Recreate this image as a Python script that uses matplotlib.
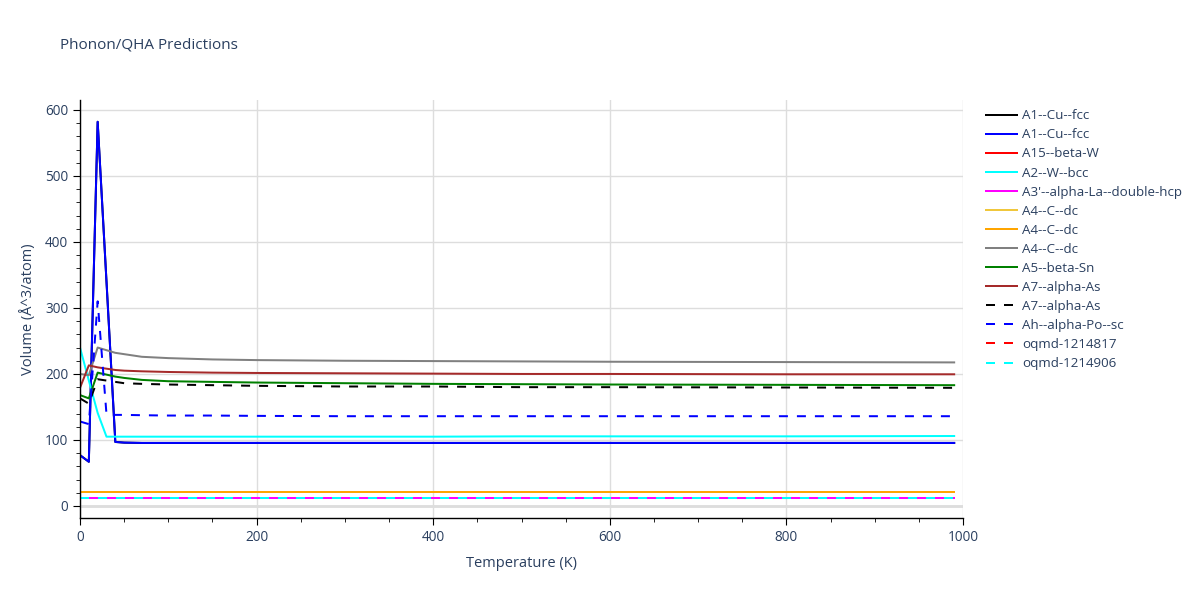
import matplotlib.pyplot as plt
from matplotlib.ticker import MultipleLocator

plt.rcParams['font.family'] = ['Open Sans', 'DejaVu Sans']

temps = [0, 10, 20, 30, 40, 50, 70, 100, 150, 200, 300, 400, 500, 600, 800, 990]

cu_fcc = [77, 67, 582, 340, 97, 96, 95.5, 95.5, 95.5, 95.5, 95.5, 95.5, 95.5, 95.5, 95.5, 95.5]
beta_w = [11.5] * 16
w_bcc = [240, 190, 141, 105, 105, 105, 105, 105, 105, 105, 105, 105, 105.5, 105.5, 105.5, 106]
la_dhcp = [11.5] * 16
c_dc_1 = [21] * 16
c_dc_2 = [21] * 16
c_dc_3 = [200, 198, 240, 236, 232, 230, 226, 224, 222, 221, 220, 219.5, 219, 218.5, 218, 217.5]
beta_sn = [168, 163, 202, 199, 196, 194, 191, 189, 188, 187, 186, 185, 184.5, 184, 183.5, 183]
alpha_as_1 = [179, 213, 210, 208, 206, 205, 204, 203, 202, 201.5, 201, 200.5, 200, 200, 199.5, 199.5]
alpha_as_2 = [163, 155, 192, 190, 188, 186, 185, 184, 183, 182, 181, 181, 180, 180, 179.5, 179]
alpha_po = [128, 124, 310, 139, 138, 138, 137.5, 137, 137, 136.5, 136, 136, 136, 136, 136, 136]
oqmd_817 = [11.5] * 16
oqmd_906 = [11.5] * 16

series = [
    ("A1--Cu--fcc", cu_fcc, "black", "-"),
    ("A1--Cu--fcc", cu_fcc, "blue", "-"),
    ("A15--beta-W", beta_w, "red", "-"),
    ("A2--W--bcc", w_bcc, "cyan", "-"),
    ("A3'--alpha-La--double-hcp", la_dhcp, "magenta", "-"),
    ("A4--C--dc", c_dc_1, "#f0c73c", "-"),
    ("A4--C--dc", c_dc_2, "orange", "-"),
    ("A4--C--dc", c_dc_3, "gray", "-"),
    ("A5--beta-Sn", beta_sn, "green", "-"),
    ("A7--alpha-As", alpha_as_1, "brown", "-"),
    ("A7--alpha-As", alpha_as_2, "black", "--"),
    ("Ah--alpha-Po--sc", alpha_po, "blue", "--"),
    ("oqmd-1214817", oqmd_817, "red", "--"),
    ("oqmd-1214906", oqmd_906, "cyan", "--"),
]

txt = "#2a3f5f"
fig = plt.figure(figsize=(12, 6), dpi=100)
ax = fig.add_axes([80 / 1200, 1 - 518 / 600, 883 / 1200, 418 / 600])

lw = 2 * 72 / 100
for name, vals, color, ls in series:
    line, = ax.plot(temps, vals, color=color, lw=lw, label=name)
    if ls == "--":
        line.set_dashes((4.5, 4.5))

ax.set_xlim(0, 1000)
ax.set_ylim(-18.2, 615)
ax.xaxis.set_major_locator(MultipleLocator(200))
ax.xaxis.set_minor_locator(MultipleLocator(50))
ax.yaxis.set_major_locator(MultipleLocator(100))
ax.yaxis.set_minor_locator(MultipleLocator(20))
ax.grid(True, which="major", color="#dddddd", lw=1)
ax.axhline(0, color="#dddddd", lw=2, zorder=0.5)
ax.set_axisbelow(True)
for s in ["top", "right"]:
    ax.spines[s].set_visible(False)
for s in ["left", "bottom"]:
    ax.spines[s].set_color("black")
    ax.spines[s].set_linewidth(1)
ax.tick_params(which="major", length=5, color="black", labelcolor=txt, labelsize=9.8)
ax.tick_params(which="minor", length=3, color="black")
ax.set_xlabel("Temperature (K)", color=txt, fontsize=10.5, labelpad=8)
ax.set_ylabel("Volume (Å^3/atom)", color=txt, fontsize=10.5, labelpad=6)

fig.text(60 / 1200, 1 - 45 / 600, "Phonon/QHA Predictions", color=txt, fontsize=11, va="center")

leg = ax.legend(loc="upper left", bbox_to_anchor=(1.016, 1.0), frameon=False,
                fontsize=9.6, handlelength=2.3, handletextpad=0.35,
                labelspacing=0.455, borderaxespad=0.3)
for t in leg.get_texts():
    t.set_color(txt)

fig.savefig("out.png", dpi=100)
